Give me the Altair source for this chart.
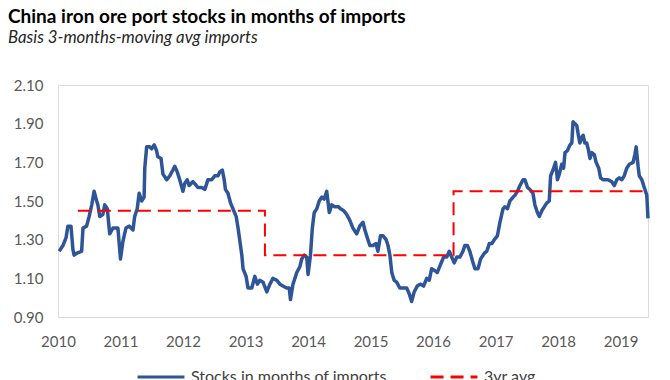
import altair as alt
import pandas as pd

# ---- data ----
stock_years = [
    2010.02, 2010.08, 2010.13, 2010.16, 2010.21, 2010.24, 2010.26, 2010.30, 2010.38, 2010.40,
    2010.46, 2010.50, 2010.54, 2010.58, 2010.62, 2010.64, 2010.67, 2010.72, 2010.75, 2010.79,
    2010.83, 2010.88, 2010.91, 2010.96, 2011.00, 2011.04, 2011.09, 2011.14, 2011.20, 2011.23,
    2011.27, 2011.30, 2011.34, 2011.38, 2011.39, 2011.42, 2011.47, 2011.50, 2011.54, 2011.58,
    2011.60, 2011.65, 2011.68, 2011.74, 2011.79, 2011.84, 2011.87, 2011.91, 2011.95, 2012.00,
    2012.03, 2012.07, 2012.10, 2012.16, 2012.19, 2012.24, 2012.30, 2012.35, 2012.40, 2012.46,
    2012.51, 2012.56, 2012.59, 2012.63, 2012.66, 2012.68, 2012.72, 2012.76, 2012.80, 2012.85,
    2012.88, 2012.91, 2012.94, 2012.96, 2013.01, 2013.04, 2013.10, 2013.15, 2013.19, 2013.23,
    2013.28, 2013.34, 2013.39, 2013.44, 2013.50, 2013.55, 2013.60, 2013.66, 2013.70, 2013.72,
    2013.76, 2013.82, 2013.87, 2013.90, 2013.94, 2013.98, 2014.00, 2014.04, 2014.07, 2014.10,
    2014.14, 2014.18, 2014.22, 2014.26, 2014.30, 2014.34, 2014.38, 2014.43, 2014.49, 2014.52,
    2014.57, 2014.62, 2014.67, 2014.72, 2014.78, 2014.83, 2014.88, 2014.91, 2014.95, 2014.99,
    2015.04, 2015.09, 2015.12, 2015.16, 2015.20, 2015.25, 2015.28, 2015.31, 2015.34, 2015.38,
    2015.42, 2015.47, 2015.52, 2015.58, 2015.62, 2015.66, 2015.70, 2015.75, 2015.80, 2015.85,
    2015.90, 2015.94, 2015.98, 2016.03, 2016.07, 2016.12, 2016.17, 2016.22, 2016.26, 2016.30,
    2016.34, 2016.38, 2016.43, 2016.48, 2016.51, 2016.55, 2016.59, 2016.64, 2016.67, 2016.72,
    2016.76, 2016.82, 2016.86, 2016.90, 2016.94, 2016.98, 2017.03, 2017.07, 2017.12, 2017.15,
    2017.19, 2017.23, 2017.28, 2017.31, 2017.35, 2017.39, 2017.44, 2017.47, 2017.51, 2017.55,
    2017.60, 2017.63, 2017.67, 2017.70, 2017.74, 2017.78, 2017.82, 2017.86, 2017.88, 2017.93,
    2017.96, 2017.99, 2018.02, 2018.06, 2018.09, 2018.11, 2018.15, 2018.19, 2018.22, 2018.24,
    2018.27, 2018.30, 2018.33, 2018.35, 2018.38, 2018.40, 2018.43, 2018.46, 2018.49, 2018.51,
    2018.54, 2018.58, 2018.61, 2018.65, 2018.68, 2018.72, 2018.77, 2018.80, 2018.86, 2018.90,
    2018.94, 2018.98, 2019.02, 2019.06, 2019.10, 2019.14, 2019.20, 2019.23, 2019.25, 2019.28,
    2019.30, 2019.34, 2019.38, 2019.42, 2019.44,
]
stock_values = [
    1.24, 1.27, 1.31, 1.37, 1.37, 1.25, 1.22, 1.23, 1.24, 1.36,
    1.37, 1.42, 1.48, 1.55, 1.50, 1.48, 1.42, 1.43, 1.48, 1.46,
    1.33, 1.36, 1.36, 1.36, 1.20, 1.29, 1.36, 1.37, 1.35, 1.42,
    1.46, 1.54, 1.50, 1.52, 1.67, 1.78, 1.78, 1.77, 1.79, 1.76,
    1.73, 1.72, 1.64, 1.61, 1.63, 1.66, 1.68, 1.65, 1.61, 1.55,
    1.59, 1.61, 1.58, 1.60, 1.59, 1.57, 1.57, 1.56, 1.61, 1.61,
    1.63, 1.63, 1.65, 1.66, 1.61, 1.56, 1.54, 1.49, 1.46, 1.42,
    1.36, 1.29, 1.22, 1.15, 1.11, 1.05, 1.05, 1.11, 1.07, 1.09,
    1.08, 1.03, 1.07, 1.10, 1.09, 1.07, 1.06, 1.05, 1.05, 0.99,
    1.07, 1.13, 1.16, 1.20, 1.22, 1.21, 1.12, 1.22, 1.36, 1.44,
    1.46, 1.50, 1.52, 1.51, 1.55, 1.44, 1.48, 1.47, 1.47, 1.46,
    1.45, 1.43, 1.40, 1.36, 1.33, 1.37, 1.39, 1.35, 1.31, 1.27,
    1.27, 1.28, 1.24, 1.32, 1.32, 1.30, 1.27, 1.22, 1.13, 1.09,
    1.08, 1.05, 1.05, 1.05, 1.02, 0.98, 1.03, 1.06, 1.07, 1.06,
    1.10, 1.09, 1.15, 1.14, 1.13, 1.17, 1.21, 1.21, 1.24, 1.21,
    1.18, 1.21, 1.21, 1.24, 1.27, 1.27, 1.24, 1.18, 1.15, 1.15,
    1.20, 1.23, 1.24, 1.28, 1.28, 1.30, 1.32, 1.39, 1.46, 1.47,
    1.46, 1.50, 1.52, 1.53, 1.55, 1.58, 1.61, 1.61, 1.57, 1.56,
    1.54, 1.48, 1.44, 1.42, 1.45, 1.47, 1.49, 1.50, 1.63, 1.67,
    1.70, 1.61, 1.64, 1.69, 1.67, 1.75, 1.76, 1.79, 1.80, 1.91,
    1.90, 1.89, 1.83, 1.80, 1.83, 1.84, 1.80, 1.80, 1.76, 1.72,
    1.75, 1.74, 1.70, 1.67, 1.62, 1.61, 1.61, 1.61, 1.60, 1.58,
    1.61, 1.62, 1.61, 1.63, 1.67, 1.69, 1.70, 1.74, 1.78, 1.68,
    1.63, 1.61, 1.57, 1.53, 1.41,
]
avg_years = [2010.32, 2013.31, 2016.33, 2019.44]
avg_values = [1.45, 1.22, 1.55, 1.55]
series_names = ["Stocks in months of imports", "3yr avg"]
series_colors = ["#2e5597", "#ff0000"]
y_ticks = [0.90, 1.10, 1.30, 1.50, 1.70, 1.90, 2.10]
x_domain_years = [2010.0, 2019.44]


def to_date(d):
    y = int(d)
    start = pd.Timestamp(year=y, month=1, day=1)
    end = pd.Timestamp(year=y + 1, month=1, day=1)
    return (start + (end - start) * (d - y)).strftime("%Y-%m-%d")


stock_df = pd.DataFrame({
    "date": [to_date(d) for d in stock_years],
    "value": stock_values,
    "series": series_names[0],
})
avg_df = pd.DataFrame({
    "date": [to_date(d) for d in avg_years],
    "value": avg_values,
    "series": series_names[1],
})

FONT = "Lato"
LABEL_COLOR = "#595959"

legend_opts = dict(
    title=None, orient="none", legendX=78, legendY=267, direction="horizontal",
    symbolType="stroke", symbolStrokeWidth=3, symbolSize=2200, labelFontSize=16,
    labelFont=FONT, labelColor="#404040", columnPadding=37, labelOffset=5, labelLimit=0,
)

x_enc = alt.X(
    "date:T",
    scale=alt.Scale(domain=[to_date(x_domain_years[0]), to_date(x_domain_years[1])]),
    axis=alt.Axis(
        format="%Y", tickCount={"interval": "year", "step": 1}, grid=False, ticks=False,
        domainColor="#d9d9d9", domainWidth=1, labelPadding=17, labelFontSize=15,
        labelFont=FONT, labelColor=LABEL_COLOR, labelFlush=False, title=None,
    ),
)
y_enc = alt.Y(
    "value:Q",
    scale=alt.Scale(domain=[0.9, 2.1]),
    axis=alt.Axis(
        values=y_ticks, format=".2f", grid=False, ticks=False, domain=False,
        labelPadding=15, labelFontSize=15, labelFont=FONT, labelColor=LABEL_COLOR, title=None,
    ),
)
color_enc = alt.Color(
    "series:N",
    scale=alt.Scale(domain=series_names, range=series_colors),
    legend=alt.Legend(**legend_opts),
)
dash_enc = alt.StrokeDash(
    "series:N",
    scale=alt.Scale(domain=series_names, range=[[1, 0], [13, 7]]),
    legend=alt.Legend(**legend_opts),
)

stock_line = alt.Chart(stock_df).mark_line(strokeWidth=3.5, strokeJoin="round").encode(
    x=x_enc, y=y_enc, color=color_enc, strokeDash=dash_enc
)
avg_line = alt.Chart(avg_df).mark_line(strokeWidth=2, interpolate="step-after").encode(
    x=x_enc, y=y_enc, color=color_enc, strokeDash=dash_enc
)

chart = (
    alt.layer(stock_line, avg_line)
    .properties(
        width=590,
        height=232,
        padding={"left": 0, "top": 0, "right": 5, "bottom": 0},
        title=alt.TitleParams(
            text="China iron ore port stocks in months of imports",
            subtitle="Basis 3-months-moving avg imports",
            anchor="start", frame="group", dx=-50,
            font=FONT, fontSize=19, fontWeight="bold", color="#000000",
            subtitleFont=FONT, subtitleFontSize=16.8, subtitleFontStyle="italic",
            subtitleColor="#262626", subtitlePadding=3, offset=31,
        ),
    )
    .configure_view(strokeWidth=0)
    .configure(background="white")
)

chart.save("out.html", embed_options={"renderer": "svg", "actions": False})
